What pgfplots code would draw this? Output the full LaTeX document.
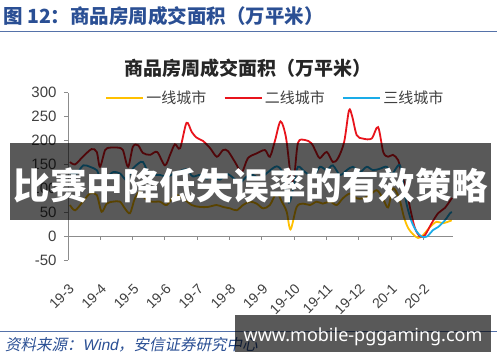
\documentclass[border=0pt]{standalone}
\usepackage{fontspec}
\setmainfont{Liberation Sans}
\newfontfamily\cjk{Noto Sans CJK SC}
\newfontfamily\cjksl{Noto Sans CJK SC}[FakeSlant=0.2]
\newfontfamily\latsl{Liberation Sans}[FakeSlant=0.2]
\newfontfamily\wm{Noto Sans}
\usepackage{pgfplots}
\pgfplotsset{compat=1.18}
\definecolor{hdrblue}{HTML}{2A4F94}
\definecolor{c1}{HTML}{FFC000}
\definecolor{c2}{HTML}{E8141C}
\definecolor{c3}{HTML}{1AACE8}
\definecolor{axgray}{HTML}{8C8C8C}
\definecolor{txtgray}{HTML}{404040}
\begin{document}
\begin{tikzpicture}
\useasboundingbox (0pt,0pt) rectangle (500pt,362pt);
\fill[white] (0pt,0pt) rectangle (500pt,362pt);
% header
\node[anchor=west, text=hdrblue, font=\cjk\bfseries\fontsize{19.5}{19.5}\selectfont, inner sep=0pt] at (3pt,345.5pt) {图 12：商品房周成交面积（万平米）};
\draw[hdrblue!80, line width=1.2pt] (0pt,330.5pt) -- (497pt,330.5pt);
% chart title
\node[font=\cjk\bfseries\fontsize{19}{19}\selectfont, text=black!85] at (248pt,294pt) {商品房周成交面积（万平米）};
\begin{axis}[
  at={(68pt,102pt)}, anchor=south west,
  scale only axis, width=385pt, height=167.3pt,
  xmin=0, xmax=11.92, ymin=-50, ymax=300,
  axis lines*=left,
  x axis line style={draw=none},
  y axis line style={axgray, line width=0.8pt},
  ytick={-50,0,50,100,150,200,250,300},
  yticklabels={-50,0,50,100,150,200,250,300},
  xtick={0,1,2,3,4,5,6,7,8,9,10,11},
  xticklabels={19-3,19-4,19-5,19-6,19-7,19-8,19-9,19-10,19-11,19-12,20-1,20-2},
  tick align=outside,
  major tick length=4pt,
  ytick style={axgray, line width=0.8pt},
  xtick style={draw=none},
  yticklabel style={font=\fontsize{15}{15}\selectfont, text=txtgray, xshift=-4pt},
  xticklabel style={yshift=-14pt, rotate=45, anchor=north east, font=\fontsize{14}{14}\selectfont, text=txtgray},
  legend columns=3,
  legend style={at={(0.538,0.968)}, anchor=center, draw=none, fill=none,
    font=\cjk\fontsize{15}{15}\selectfont, text=txtgray,
    /tikz/every even column/.append style={column sep=15pt}},
  legend image code/.code={\draw[#1, line width=2.5pt] (0pt,0pt) -- (37pt,0pt);},
  every axis plot/.append style={line width=1.8pt, smooth, tension=0.5},
]
\draw[axgray, line width=0.8pt] (axis cs:0,0) -- (axis cs:11.92,0);
\pgfplotsinvokeforeach{1,...,11}{\draw[axgray, line width=0.8pt] (axis cs:#1,0) -- ++(0pt,-4pt);}
\addplot[c1] coordinates {(0.06,65)(0.22,54)(0.46,72)(0.68,89)(0.89,86)(1.04,51)(1.20,68)(1.39,72)(1.61,72)(1.76,58)(1.92,48)(2.07,79)(2.23,93)(2.38,79)(2.59,72)(2.85,72)(3.06,65)(3.31,86)(3.56,79)(3.83,65)(4.09,61)(4.33,61)(4.60,65)(4.80,61)(5.02,58)(5.22,54)(5.42,65)(5.63,72)(5.84,68)(6.04,58)(6.25,65)(6.46,90)(6.62,72)(6.77,51)(6.89,14)(7.08,61)(7.28,68)(7.49,65)(7.70,72)(7.89,68)(8.11,72)(8.32,65)(8.51,79)(8.73,89)(8.94,79)(9.13,79)(9.35,86)(9.56,96)(9.75,79)(9.91,60)(10.06,100)(10.25,80)(10.40,40)(10.53,17)(10.68,4)(10.84,-4)(10.99,2)(11.21,19)(11.41,30)(11.61,27)(11.88,33)};
\addlegendentry{一线城市}
\addplot[c2] coordinates {(0.06,155)(0.22,150)(0.46,166)(0.73,182)(0.89,176)(0.99,145)(1.15,180)(1.30,185)(1.55,185)(1.70,180)(1.86,145)(2.01,187)(2.17,190)(2.32,174)(2.54,170)(2.76,176)(3.00,148)(3.16,170)(3.31,192)(3.47,184)(3.67,237)(3.83,218)(3.98,206)(4.18,199)(4.40,184)(4.61,166)(4.80,180)(4.95,178)(5.17,155)(5.38,134)(5.57,163)(5.84,173)(6.10,180)(6.25,166)(6.41,200)(6.58,240)(6.75,206)(6.90,124)(7.00,122)(7.12,195)(7.34,201)(7.54,194)(7.70,173)(7.80,163)(8.01,176)(8.20,155)(8.36,163)(8.55,197)(8.70,263)(8.80,250)(8.94,211)(9.13,204)(9.40,204)(9.60,228)(9.76,176)(9.91,166)(10.06,170)(10.22,159)(10.33,131)(10.49,93)(10.59,59)(10.74,17)(10.90,-1)(11.05,2)(11.26,27)(11.46,48)(11.67,59)(11.89,80)};
\addlegendentry{二线城市}
\addplot[c3] coordinates {(0.06,132)(0.27,131)(0.47,148)(0.68,145)(0.89,138)(0.99,124)(1.20,124)(1.40,134)(1.61,131)(1.82,117)(1.97,138)(2.18,152)(2.32,155)(2.48,134)(2.63,128)(2.85,128)(3.06,124)(3.25,130)(3.47,136)(3.67,140)(3.86,125)(4.09,128)(4.30,120)(4.49,125)(4.70,118)(4.92,130)(5.11,122)(5.33,112)(5.54,125)(5.73,128)(5.94,120)(6.16,132)(6.46,146)(6.66,130)(6.84,70)(7.00,110)(7.12,145)(7.34,134)(7.59,124)(7.80,145)(8.01,138)(8.20,148)(8.42,128)(8.63,138)(8.82,145)(9.04,134)(9.25,145)(9.44,138)(9.66,141)(9.87,145)(10.01,128)(10.12,138)(10.28,148)(10.40,100)(10.49,65)(10.64,30)(10.80,9)(10.95,-1)(11.11,-1)(11.31,13)(11.46,19)(11.67,33)(11.83,48)(11.89,50)};
\addlegendentry{三线城市}
\end{axis}
% overlay banner
\fill[black, opacity=0.65] (10pt,142pt) rectangle (491pt,219pt);
\node[text=white, font=\cjk\bfseries\fontsize{36.5}{36.5}\selectfont] at (251pt,177pt) {比赛中降低失误率的有效策略};
% source
\draw[hdrblue!80, line width=1.2pt] (0pt,30.5pt) -- (497pt,30.5pt);
\node[anchor=west, text=hdrblue, font=\cjksl\fontsize{15.5}{15.5}\selectfont, inner sep=0pt] at (5pt,17.5pt) {资料来源：{\latsl Wind}，安信证券研究中心};
% watermark
\fill[black, opacity=0.65] (235pt,10pt) rectangle (491pt,47pt);
\node[text=white, font=\wm\bfseries\fontsize{18}{18}\selectfont] at (363pt,25.5pt) {www.mobile-pggaming.com};
\end{tikzpicture}
\end{document}
